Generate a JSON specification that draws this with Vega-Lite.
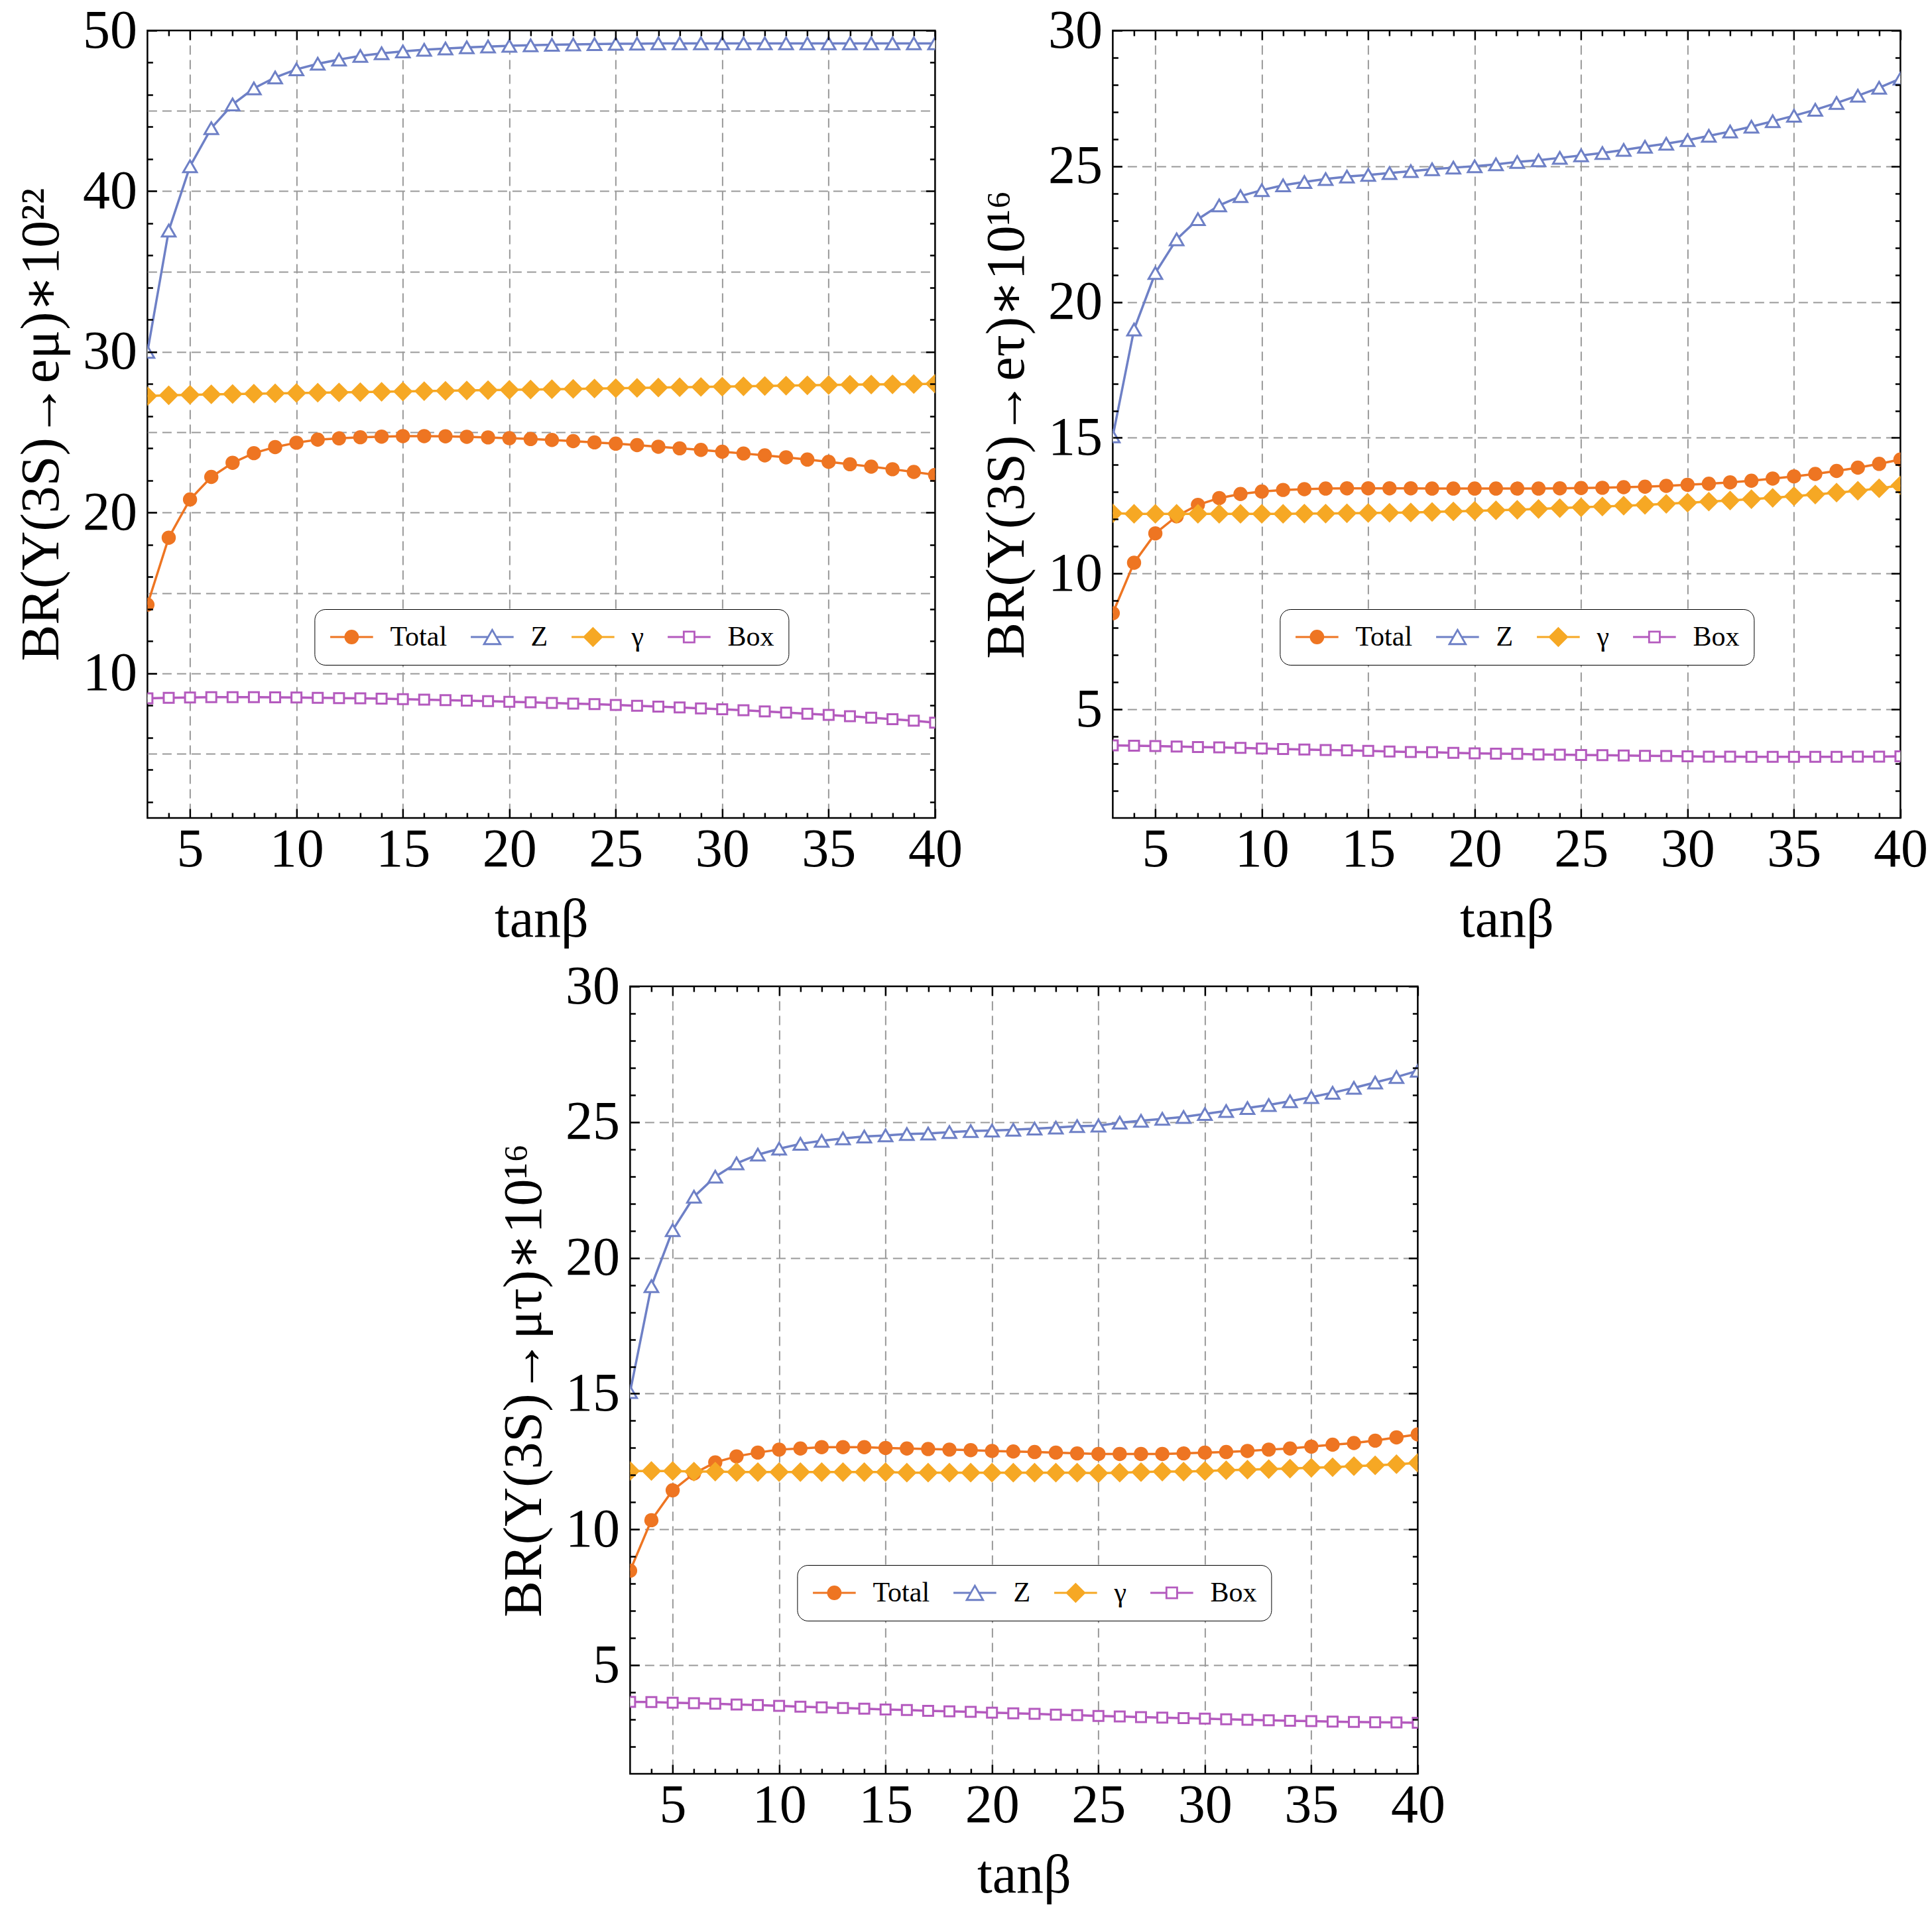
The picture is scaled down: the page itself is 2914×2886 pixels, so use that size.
{
"$schema":"https://vega.github.io/schema/vega-lite/v6.json",
"background":"white",
"padding":{"left":20,"top":3,"right":2,"bottom":2},
"datasets":{
"p1":[
{"t":3,"s":"Total","v":14.27},{"t":4,"s":"Total","v":18.44},{"t":5,"s":"Total","v":20.82},{"t":6,"s":"Total","v":22.22},{"t":7,"s":"Total","v":23.1},{"t":8,"s":"Total","v":23.7},{"t":9,"s":"Total","v":24.08},{"t":10,"s":"Total","v":24.35},{"t":11,"s":"Total","v":24.54},{"t":12,"s":"Total","v":24.62},{"t":13,"s":"Total","v":24.69},{"t":14,"s":"Total","v":24.73},{"t":15,"s":"Total","v":24.76},{"t":16,"s":"Total","v":24.76},{"t":17,"s":"Total","v":24.75},{"t":18,"s":"Total","v":24.72},{"t":19,"s":"Total","v":24.68},{"t":20,"s":"Total","v":24.63},{"t":21,"s":"Total","v":24.58},{"t":22,"s":"Total","v":24.52},{"t":23,"s":"Total","v":24.45},{"t":24,"s":"Total","v":24.37},{"t":25,"s":"Total","v":24.29},{"t":26,"s":"Total","v":24.2},{"t":27,"s":"Total","v":24.1},{"t":28,"s":"Total","v":24.0},{"t":29,"s":"Total","v":23.9},{"t":30,"s":"Total","v":23.79},{"t":31,"s":"Total","v":23.68},{"t":32,"s":"Total","v":23.56},{"t":33,"s":"Total","v":23.44},{"t":34,"s":"Total","v":23.3},{"t":35,"s":"Total","v":23.16},{"t":36,"s":"Total","v":23.01},{"t":37,"s":"Total","v":22.86},{"t":38,"s":"Total","v":22.7},{"t":39,"s":"Total","v":22.53},{"t":40,"s":"Total","v":22.35},
{"t":3,"s":"Z","v":30.0},{"t":4,"s":"Z","v":37.55},{"t":5,"s":"Z","v":41.55},{"t":6,"s":"Z","v":43.92},{"t":7,"s":"Z","v":45.4},{"t":8,"s":"Z","v":46.4},{"t":9,"s":"Z","v":47.08},{"t":10,"s":"Z","v":47.58},{"t":11,"s":"Z","v":47.93},{"t":12,"s":"Z","v":48.19},{"t":13,"s":"Z","v":48.42},{"t":14,"s":"Z","v":48.58},{"t":15,"s":"Z","v":48.7},{"t":16,"s":"Z","v":48.8},{"t":17,"s":"Z","v":48.88},{"t":18,"s":"Z","v":48.95},{"t":19,"s":"Z","v":49.0},{"t":20,"s":"Z","v":49.05},{"t":21,"s":"Z","v":49.08},{"t":22,"s":"Z","v":49.11},{"t":23,"s":"Z","v":49.13},{"t":24,"s":"Z","v":49.15},{"t":25,"s":"Z","v":49.17},{"t":26,"s":"Z","v":49.18},{"t":27,"s":"Z","v":49.2},{"t":28,"s":"Z","v":49.2},{"t":29,"s":"Z","v":49.2},{"t":30,"s":"Z","v":49.2},{"t":31,"s":"Z","v":49.2},{"t":32,"s":"Z","v":49.2},{"t":33,"s":"Z","v":49.2},{"t":34,"s":"Z","v":49.2},{"t":35,"s":"Z","v":49.2},{"t":36,"s":"Z","v":49.2},{"t":37,"s":"Z","v":49.2},{"t":38,"s":"Z","v":49.2},{"t":39,"s":"Z","v":49.2},{"t":40,"s":"Z","v":49.2},
{"t":3,"s":"γ","v":27.25},{"t":4,"s":"γ","v":27.3},{"t":5,"s":"γ","v":27.33},{"t":6,"s":"γ","v":27.36},{"t":7,"s":"γ","v":27.38},{"t":8,"s":"γ","v":27.4},{"t":9,"s":"γ","v":27.42},{"t":10,"s":"γ","v":27.44},{"t":11,"s":"γ","v":27.46},{"t":12,"s":"γ","v":27.48},{"t":13,"s":"γ","v":27.5},{"t":14,"s":"γ","v":27.52},{"t":15,"s":"γ","v":27.54},{"t":16,"s":"γ","v":27.56},{"t":17,"s":"γ","v":27.58},{"t":18,"s":"γ","v":27.6},{"t":19,"s":"γ","v":27.62},{"t":20,"s":"γ","v":27.64},{"t":21,"s":"γ","v":27.66},{"t":22,"s":"γ","v":27.68},{"t":23,"s":"γ","v":27.7},{"t":24,"s":"γ","v":27.72},{"t":25,"s":"γ","v":27.74},{"t":26,"s":"γ","v":27.76},{"t":27,"s":"γ","v":27.78},{"t":28,"s":"γ","v":27.8},{"t":29,"s":"γ","v":27.82},{"t":30,"s":"γ","v":27.84},{"t":31,"s":"γ","v":27.86},{"t":32,"s":"γ","v":27.88},{"t":33,"s":"γ","v":27.9},{"t":34,"s":"γ","v":27.92},{"t":35,"s":"γ","v":27.94},{"t":36,"s":"γ","v":27.96},{"t":37,"s":"γ","v":27.97},{"t":38,"s":"γ","v":27.98},{"t":39,"s":"γ","v":28.0},{"t":40,"s":"γ","v":28.02},
{"t":3,"s":"Box","v":8.45},{"t":4,"s":"Box","v":8.48},{"t":5,"s":"Box","v":8.5},{"t":6,"s":"Box","v":8.52},{"t":7,"s":"Box","v":8.52},{"t":8,"s":"Box","v":8.52},{"t":9,"s":"Box","v":8.51},{"t":10,"s":"Box","v":8.5},{"t":11,"s":"Box","v":8.48},{"t":12,"s":"Box","v":8.46},{"t":13,"s":"Box","v":8.44},{"t":14,"s":"Box","v":8.42},{"t":15,"s":"Box","v":8.39},{"t":16,"s":"Box","v":8.36},{"t":17,"s":"Box","v":8.33},{"t":18,"s":"Box","v":8.3},{"t":19,"s":"Box","v":8.27},{"t":20,"s":"Box","v":8.23},{"t":21,"s":"Box","v":8.2},{"t":22,"s":"Box","v":8.16},{"t":23,"s":"Box","v":8.12},{"t":24,"s":"Box","v":8.08},{"t":25,"s":"Box","v":8.03},{"t":26,"s":"Box","v":7.98},{"t":27,"s":"Box","v":7.93},{"t":28,"s":"Box","v":7.88},{"t":29,"s":"Box","v":7.82},{"t":30,"s":"Box","v":7.76},{"t":31,"s":"Box","v":7.7},{"t":32,"s":"Box","v":7.63},{"t":33,"s":"Box","v":7.56},{"t":34,"s":"Box","v":7.49},{"t":35,"s":"Box","v":7.41},{"t":36,"s":"Box","v":7.33},{"t":37,"s":"Box","v":7.24},{"t":38,"s":"Box","v":7.15},{"t":39,"s":"Box","v":7.05},{"t":40,"s":"Box","v":6.93}
],
"p2":[
{"t":3,"s":"Total","v":8.54},{"t":4,"s":"Total","v":10.4},{"t":5,"s":"Total","v":11.48},{"t":6,"s":"Total","v":12.11},{"t":7,"s":"Total","v":12.53},{"t":8,"s":"Total","v":12.78},{"t":9,"s":"Total","v":12.93},{"t":10,"s":"Total","v":13.02},{"t":11,"s":"Total","v":13.08},{"t":12,"s":"Total","v":13.11},{"t":13,"s":"Total","v":13.13},{"t":14,"s":"Total","v":13.14},{"t":15,"s":"Total","v":13.14},{"t":16,"s":"Total","v":13.14},{"t":17,"s":"Total","v":13.14},{"t":18,"s":"Total","v":13.13},{"t":19,"s":"Total","v":13.13},{"t":20,"s":"Total","v":13.13},{"t":21,"s":"Total","v":13.13},{"t":22,"s":"Total","v":13.13},{"t":23,"s":"Total","v":13.13},{"t":24,"s":"Total","v":13.14},{"t":25,"s":"Total","v":13.15},{"t":26,"s":"Total","v":13.16},{"t":27,"s":"Total","v":13.18},{"t":28,"s":"Total","v":13.2},{"t":29,"s":"Total","v":13.23},{"t":30,"s":"Total","v":13.27},{"t":31,"s":"Total","v":13.31},{"t":32,"s":"Total","v":13.36},{"t":33,"s":"Total","v":13.42},{"t":34,"s":"Total","v":13.5},{"t":35,"s":"Total","v":13.58},{"t":36,"s":"Total","v":13.67},{"t":37,"s":"Total","v":13.78},{"t":38,"s":"Total","v":13.9},{"t":39,"s":"Total","v":14.04},{"t":40,"s":"Total","v":14.2},
{"t":3,"s":"Z","v":15.05},{"t":4,"s":"Z","v":18.99},{"t":5,"s":"Z","v":21.07},{"t":6,"s":"Z","v":22.31},{"t":7,"s":"Z","v":23.05},{"t":8,"s":"Z","v":23.56},{"t":9,"s":"Z","v":23.9},{"t":10,"s":"Z","v":24.12},{"t":11,"s":"Z","v":24.3},{"t":12,"s":"Z","v":24.42},{"t":13,"s":"Z","v":24.53},{"t":14,"s":"Z","v":24.62},{"t":15,"s":"Z","v":24.68},{"t":16,"s":"Z","v":24.75},{"t":17,"s":"Z","v":24.82},{"t":18,"s":"Z","v":24.89},{"t":19,"s":"Z","v":24.95},{"t":20,"s":"Z","v":25.0},{"t":21,"s":"Z","v":25.07},{"t":22,"s":"Z","v":25.16},{"t":23,"s":"Z","v":25.22},{"t":24,"s":"Z","v":25.31},{"t":25,"s":"Z","v":25.4},{"t":26,"s":"Z","v":25.49},{"t":27,"s":"Z","v":25.6},{"t":28,"s":"Z","v":25.72},{"t":29,"s":"Z","v":25.83},{"t":30,"s":"Z","v":25.96},{"t":31,"s":"Z","v":26.12},{"t":32,"s":"Z","v":26.28},{"t":33,"s":"Z","v":26.46},{"t":34,"s":"Z","v":26.66},{"t":35,"s":"Z","v":26.86},{"t":36,"s":"Z","v":27.08},{"t":37,"s":"Z","v":27.33},{"t":38,"s":"Z","v":27.6},{"t":39,"s":"Z","v":27.89},{"t":40,"s":"Z","v":28.23},
{"t":3,"s":"γ","v":12.22},{"t":4,"s":"γ","v":12.2},{"t":5,"s":"γ","v":12.2},{"t":6,"s":"γ","v":12.2},{"t":7,"s":"γ","v":12.2},{"t":8,"s":"γ","v":12.2},{"t":9,"s":"γ","v":12.2},{"t":10,"s":"γ","v":12.2},{"t":11,"s":"γ","v":12.2},{"t":12,"s":"γ","v":12.21},{"t":13,"s":"γ","v":12.21},{"t":14,"s":"γ","v":12.22},{"t":15,"s":"γ","v":12.23},{"t":16,"s":"γ","v":12.24},{"t":17,"s":"γ","v":12.25},{"t":18,"s":"γ","v":12.27},{"t":19,"s":"γ","v":12.29},{"t":20,"s":"γ","v":12.31},{"t":21,"s":"γ","v":12.33},{"t":22,"s":"γ","v":12.35},{"t":23,"s":"γ","v":12.38},{"t":24,"s":"γ","v":12.41},{"t":25,"s":"γ","v":12.44},{"t":26,"s":"γ","v":12.47},{"t":27,"s":"γ","v":12.5},{"t":28,"s":"γ","v":12.53},{"t":29,"s":"γ","v":12.57},{"t":30,"s":"γ","v":12.61},{"t":31,"s":"γ","v":12.65},{"t":32,"s":"γ","v":12.69},{"t":33,"s":"γ","v":12.74},{"t":34,"s":"γ","v":12.79},{"t":35,"s":"γ","v":12.85},{"t":36,"s":"γ","v":12.91},{"t":37,"s":"γ","v":12.98},{"t":38,"s":"γ","v":13.05},{"t":39,"s":"γ","v":13.14},{"t":40,"s":"γ","v":13.25},
{"t":3,"s":"Box","v":3.67},{"t":4,"s":"Box","v":3.66},{"t":5,"s":"Box","v":3.65},{"t":6,"s":"Box","v":3.63},{"t":7,"s":"Box","v":3.61},{"t":8,"s":"Box","v":3.6},{"t":9,"s":"Box","v":3.58},{"t":10,"s":"Box","v":3.56},{"t":11,"s":"Box","v":3.54},{"t":12,"s":"Box","v":3.52},{"t":13,"s":"Box","v":3.5},{"t":14,"s":"Box","v":3.49},{"t":15,"s":"Box","v":3.47},{"t":16,"s":"Box","v":3.45},{"t":17,"s":"Box","v":3.43},{"t":18,"s":"Box","v":3.42},{"t":19,"s":"Box","v":3.4},{"t":20,"s":"Box","v":3.38},{"t":21,"s":"Box","v":3.37},{"t":22,"s":"Box","v":3.36},{"t":23,"s":"Box","v":3.34},{"t":24,"s":"Box","v":3.33},{"t":25,"s":"Box","v":3.32},{"t":26,"s":"Box","v":3.31},{"t":27,"s":"Box","v":3.3},{"t":28,"s":"Box","v":3.29},{"t":29,"s":"Box","v":3.28},{"t":30,"s":"Box","v":3.27},{"t":31,"s":"Box","v":3.26},{"t":32,"s":"Box","v":3.26},{"t":33,"s":"Box","v":3.25},{"t":34,"s":"Box","v":3.25},{"t":35,"s":"Box","v":3.25},{"t":36,"s":"Box","v":3.25},{"t":37,"s":"Box","v":3.25},{"t":38,"s":"Box","v":3.26},{"t":39,"s":"Box","v":3.26},{"t":40,"s":"Box","v":3.27}
],
"p3":[
{"t":3,"s":"Total","v":8.48},{"t":4,"s":"Total","v":10.34},{"t":5,"s":"Total","v":11.44},{"t":6,"s":"Total","v":12.06},{"t":7,"s":"Total","v":12.47},{"t":8,"s":"Total","v":12.69},{"t":9,"s":"Total","v":12.83},{"t":10,"s":"Total","v":12.94},{"t":11,"s":"Total","v":12.98},{"t":12,"s":"Total","v":13.03},{"t":13,"s":"Total","v":13.03},{"t":14,"s":"Total","v":13.03},{"t":15,"s":"Total","v":13.0},{"t":16,"s":"Total","v":12.98},{"t":17,"s":"Total","v":12.96},{"t":18,"s":"Total","v":12.94},{"t":19,"s":"Total","v":12.92},{"t":20,"s":"Total","v":12.89},{"t":21,"s":"Total","v":12.87},{"t":22,"s":"Total","v":12.85},{"t":23,"s":"Total","v":12.83},{"t":24,"s":"Total","v":12.8},{"t":25,"s":"Total","v":12.78},{"t":26,"s":"Total","v":12.78},{"t":27,"s":"Total","v":12.78},{"t":28,"s":"Total","v":12.78},{"t":29,"s":"Total","v":12.8},{"t":30,"s":"Total","v":12.83},{"t":31,"s":"Total","v":12.85},{"t":32,"s":"Total","v":12.89},{"t":33,"s":"Total","v":12.94},{"t":34,"s":"Total","v":12.98},{"t":35,"s":"Total","v":13.05},{"t":36,"s":"Total","v":13.12},{"t":37,"s":"Total","v":13.18},{"t":38,"s":"Total","v":13.27},{"t":39,"s":"Total","v":13.39},{"t":40,"s":"Total","v":13.5},
{"t":3,"s":"Z","v":15.06},{"t":4,"s":"Z","v":18.96},{"t":5,"s":"Z","v":21.02},{"t":6,"s":"Z","v":22.25},{"t":7,"s":"Z","v":22.99},{"t":8,"s":"Z","v":23.48},{"t":9,"s":"Z","v":23.8},{"t":10,"s":"Z","v":24.02},{"t":11,"s":"Z","v":24.2},{"t":12,"s":"Z","v":24.31},{"t":13,"s":"Z","v":24.4},{"t":14,"s":"Z","v":24.47},{"t":15,"s":"Z","v":24.51},{"t":16,"s":"Z","v":24.56},{"t":17,"s":"Z","v":24.58},{"t":18,"s":"Z","v":24.63},{"t":19,"s":"Z","v":24.67},{"t":20,"s":"Z","v":24.69},{"t":21,"s":"Z","v":24.72},{"t":22,"s":"Z","v":24.76},{"t":23,"s":"Z","v":24.8},{"t":24,"s":"Z","v":24.85},{"t":25,"s":"Z","v":24.87},{"t":26,"s":"Z","v":24.98},{"t":27,"s":"Z","v":25.05},{"t":28,"s":"Z","v":25.12},{"t":29,"s":"Z","v":25.19},{"t":30,"s":"Z","v":25.3},{"t":31,"s":"Z","v":25.41},{"t":32,"s":"Z","v":25.52},{"t":33,"s":"Z","v":25.63},{"t":34,"s":"Z","v":25.77},{"t":35,"s":"Z","v":25.92},{"t":36,"s":"Z","v":26.08},{"t":37,"s":"Z","v":26.26},{"t":38,"s":"Z","v":26.46},{"t":39,"s":"Z","v":26.66},{"t":40,"s":"Z","v":26.89},
{"t":3,"s":"γ","v":12.15},{"t":4,"s":"γ","v":12.15},{"t":5,"s":"γ","v":12.15},{"t":6,"s":"γ","v":12.13},{"t":7,"s":"γ","v":12.13},{"t":8,"s":"γ","v":12.11},{"t":9,"s":"γ","v":12.11},{"t":10,"s":"γ","v":12.11},{"t":11,"s":"γ","v":12.11},{"t":12,"s":"γ","v":12.11},{"t":13,"s":"γ","v":12.11},{"t":14,"s":"γ","v":12.11},{"t":15,"s":"γ","v":12.11},{"t":16,"s":"γ","v":12.09},{"t":17,"s":"γ","v":12.09},{"t":18,"s":"γ","v":12.09},{"t":19,"s":"γ","v":12.09},{"t":20,"s":"γ","v":12.09},{"t":21,"s":"γ","v":12.09},{"t":22,"s":"γ","v":12.09},{"t":23,"s":"γ","v":12.09},{"t":24,"s":"γ","v":12.09},{"t":25,"s":"γ","v":12.07},{"t":26,"s":"γ","v":12.09},{"t":27,"s":"γ","v":12.11},{"t":28,"s":"γ","v":12.13},{"t":29,"s":"γ","v":12.13},{"t":30,"s":"γ","v":12.15},{"t":31,"s":"γ","v":12.18},{"t":32,"s":"γ","v":12.2},{"t":33,"s":"γ","v":12.22},{"t":34,"s":"γ","v":12.24},{"t":35,"s":"γ","v":12.27},{"t":36,"s":"γ","v":12.29},{"t":37,"s":"γ","v":12.33},{"t":38,"s":"γ","v":12.36},{"t":39,"s":"γ","v":12.4},{"t":40,"s":"γ","v":12.45},
{"t":3,"s":"Box","v":3.65},{"t":4,"s":"Box","v":3.64},{"t":5,"s":"Box","v":3.62},{"t":6,"s":"Box","v":3.6},{"t":7,"s":"Box","v":3.58},{"t":8,"s":"Box","v":3.55},{"t":9,"s":"Box","v":3.53},{"t":10,"s":"Box","v":3.5},{"t":11,"s":"Box","v":3.47},{"t":12,"s":"Box","v":3.45},{"t":13,"s":"Box","v":3.42},{"t":14,"s":"Box","v":3.4},{"t":15,"s":"Box","v":3.37},{"t":16,"s":"Box","v":3.35},{"t":17,"s":"Box","v":3.32},{"t":18,"s":"Box","v":3.3},{"t":19,"s":"Box","v":3.28},{"t":20,"s":"Box","v":3.25},{"t":21,"s":"Box","v":3.23},{"t":22,"s":"Box","v":3.21},{"t":23,"s":"Box","v":3.18},{"t":24,"s":"Box","v":3.16},{"t":25,"s":"Box","v":3.13},{"t":26,"s":"Box","v":3.11},{"t":27,"s":"Box","v":3.09},{"t":28,"s":"Box","v":3.07},{"t":29,"s":"Box","v":3.05},{"t":30,"s":"Box","v":3.03},{"t":31,"s":"Box","v":3.01},{"t":32,"s":"Box","v":2.99},{"t":33,"s":"Box","v":2.97},{"t":34,"s":"Box","v":2.95},{"t":35,"s":"Box","v":2.94},{"t":36,"s":"Box","v":2.92},{"t":37,"s":"Box","v":2.91},{"t":38,"s":"Box","v":2.9},{"t":39,"s":"Box","v":2.89},{"t":40,"s":"Box","v":2.88}
]
},
"spacing":15,
"center":true,
"resolve":{"scale":{"fill":"independent","stroke":"independent","shape":"independent"},"legend":{"fill":"independent","stroke":"independent","shape":"independent"}},
"vconcat":[
{"hconcat":[
{"width":1188,"height":1188,"data":{"name":"p1"},
"layer":[
{"mark":{"type":"point","opacity":0},"encoding":{
"x":{"field":"t","type":"quantitative","scale":{"domain":[3,40],"nice":false,"zero":false},"axis":{"orient":"bottom","values":[5,10,15,20,25,30,35],"grid":true,"gridDash":[14,8],"gridColor":"#999999","gridWidth":2,"ticks":false,"labels":false,"title":null,"zindex":0}},
"y":{"field":"v","type":"quantitative","scale":{"domain":[1,50],"nice":false,"zero":false},"axis":{"orient":"left","values":[5,10,15,20,25,30,35,40,45],"grid":true,"gridDash":[14,8],"gridColor":"#999999","gridWidth":2,"ticks":false,"labels":false,"title":null,"zindex":0}}}},
{"mark":{"type":"line","strokeWidth":3.5,"clip":true},"encoding":{
"x":{"field":"t","type":"quantitative","scale":{"domain":[3,40],"nice":false,"zero":false},"axis":{"orient":"bottom","values":[5,10,15,20,25,30,35,40],"tickSize":-14,"labelPadding":21,"labelFontSize":82,"title":"tanβ","titleFontSize":82,"titlePadding":25,"zindex":1}},
"y":{"field":"v","type":"quantitative","scale":{"domain":[1,50],"nice":false,"zero":false},"axis":{"orient":"left","values":[10,20,30,40,50],"tickSize":-14,"labelPadding":30,"labelFontSize":82,"title":"BR(Υ(3S)→eμ)∗10²²","titleFontSize":82,"titlePadding":20,"zindex":1}},
"detail":{"field":"s","type":"nominal"},
"stroke":{"condition":[{"test":"datum.s==='Total'","value":"#EE7522"},{"test":"datum.s==='Z'","value":"#6E80C6"},{"test":"datum.s==='γ'","value":"#F6A824"}],"value":"#B45ABE"}}},
{"mark":{"type":"point","strokeWidth":3,"opacity":1,"fillOpacity":1,"clip":true},"encoding":{
"x":{"field":"t","type":"quantitative","scale":{"domain":[3,40],"nice":false,"zero":false},"axis":{"orient":"top","values":[5,10,15,20,25,30,35,40],"tickSize":-14,"labels":false,"title":null,"zindex":1}},
"y":{"field":"v","type":"quantitative","scale":{"domain":[1,50],"nice":false,"zero":false},"axis":{"orient":"right","values":[10,20,30,40,50],"tickSize":-14,"labels":false,"title":null,"zindex":1}},
"shape":{"condition":[{"test":"datum.s==='Total'","value":"circle"},{"test":"datum.s==='Z'","value":"triangle-up"},{"test":"datum.s==='γ'","value":"diamond"}],"value":"square"},
"fill":{"condition":[{"test":"datum.s==='Total'","value":"#EE7522"},{"test":"datum.s==='γ'","value":"#F6A824"}],"value":"#FFFFFF"},
"stroke":{"condition":[{"test":"datum.s==='Total'","value":"#EE7522"},{"test":"datum.s==='Z'","value":"#6E80C6"},{"test":"datum.s==='γ'","value":"#F6A824"}],"value":"#B45ABE"},
"size":{"condition":[{"test":"datum.s==='Total'","value":340},{"test":"datum.s==='Z'","value":420},{"test":"datum.s==='γ'","value":650}],"value":225}}},
{"mark":{"type":"point","opacity":0},"encoding":{
"x":{"field":"t","type":"quantitative","scale":{"domain":[3,40],"nice":false,"zero":false},"axis":{"orient":"bottom","values":[4,6,7,8,9,11,12,13,14,16,17,18,19,21,22,23,24,26,27,28,29,31,32,33,34,36,37,38,39],"tickSize":-8,"labels":false,"title":null,"zindex":1}},
"y":{"field":"v","type":"quantitative","scale":{"domain":[1,50],"nice":false,"zero":false},"axis":{"orient":"left","values":[2,4,6,8,12,14,16,18,22,24,26,28,32,34,36,38,42,44,46,48],"tickSize":-8,"labels":false,"title":null,"zindex":1}}}},
{"mark":{"type":"point","opacity":0},"encoding":{
"x":{"field":"t","type":"quantitative","scale":{"domain":[3,40],"nice":false,"zero":false},"axis":{"orient":"top","values":[4,6,7,8,9,11,12,13,14,16,17,18,19,21,22,23,24,26,27,28,29,31,32,33,34,36,37,38,39],"tickSize":-8,"labels":false,"title":null,"zindex":1}},
"y":{"field":"v","type":"quantitative","scale":{"domain":[1,50],"nice":false,"zero":false},"axis":{"orient":"right","values":[2,4,6,8,12,14,16,18,22,24,26,28,32,34,36,38,42,44,46,48],"tickSize":-8,"labels":false,"title":null,"zindex":1}}}},
{"transform":[{"filter":"false"}],"mark":{"type":"point","opacity":1,"strokeWidth":2.8},"encoding":{
"shape":{"field":"s","type":"nominal","scale":{"domain":["Total","Z","γ","Box"],"range":["M-3.4,0H-1M1,0H3.4M-1,0A1,1,0,1,1,1,0A1,1,0,1,1,-1,0Z","M-3.4,0H-0.65M0.65,0H3.4M0,-1.13L1.3,1.13L-1.3,1.13Z","M-3.4,0H-1.4M1.4,0H3.4M-1.4,0L0,-1.4L1.4,0L0,1.4Z","M-3.4,0H-0.85M0.85,0H3.4M-0.85,-0.85H0.85V0.85H-0.85Z"]},"legend":{"title":null,"orient":"none","legendX":252,"legendY":873,"direction":"horizontal"}},
"fill":{"field":"s","type":"nominal","scale":{"domain":["Total","Z","γ","Box"],"range":["#EE7522","#FFFFFF","#F6A824","#FFFFFF"]},"legend":{"title":null,"orient":"none","legendX":252,"legendY":873,"direction":"horizontal"}},
"stroke":{"field":"s","type":"nominal","scale":{"domain":["Total","Z","γ","Box"],"range":["#EE7522","#6E80C6","#F6A824","#B45ABE"]},"legend":{"title":null,"orient":"none","legendX":252,"legendY":873,"direction":"horizontal"}}}}
],
"resolve":{"axis":{"x":"independent","y":"independent"}}},
{"width":1188,"height":1188,"data":{"name":"p2"},
"layer":[
{"mark":{"type":"point","opacity":0},"encoding":{
"x":{"field":"t","type":"quantitative","scale":{"domain":[3,40],"nice":false,"zero":false},"axis":{"orient":"bottom","values":[5,10,15,20,25,30,35],"grid":true,"gridDash":[14,8],"gridColor":"#999999","gridWidth":2,"ticks":false,"labels":false,"title":null,"zindex":0}},
"y":{"field":"v","type":"quantitative","scale":{"domain":[1,30],"nice":false,"zero":false},"axis":{"orient":"left","values":[5,10,15,20,25],"grid":true,"gridDash":[14,8],"gridColor":"#999999","gridWidth":2,"ticks":false,"labels":false,"title":null,"zindex":0}}}},
{"mark":{"type":"line","strokeWidth":3.5,"clip":true},"encoding":{
"x":{"field":"t","type":"quantitative","scale":{"domain":[3,40],"nice":false,"zero":false},"axis":{"orient":"bottom","values":[5,10,15,20,25,30,35,40],"tickSize":-14,"labelPadding":21,"labelFontSize":82,"title":"tanβ","titleFontSize":82,"titlePadding":25,"zindex":1}},
"y":{"field":"v","type":"quantitative","scale":{"domain":[1,30],"nice":false,"zero":false},"axis":{"orient":"left","values":[5,10,15,20,25,30],"tickSize":-14,"labelPadding":30,"labelFontSize":82,"title":"BR(Υ(3S)→eτ)∗10¹⁶","titleFontSize":82,"titlePadding":20,"zindex":1}},
"detail":{"field":"s","type":"nominal"},
"stroke":{"condition":[{"test":"datum.s==='Total'","value":"#EE7522"},{"test":"datum.s==='Z'","value":"#6E80C6"},{"test":"datum.s==='γ'","value":"#F6A824"}],"value":"#B45ABE"}}},
{"mark":{"type":"point","strokeWidth":3,"opacity":1,"fillOpacity":1,"clip":true},"encoding":{
"x":{"field":"t","type":"quantitative","scale":{"domain":[3,40],"nice":false,"zero":false},"axis":{"orient":"top","values":[5,10,15,20,25,30,35,40],"tickSize":-14,"labels":false,"title":null,"zindex":1}},
"y":{"field":"v","type":"quantitative","scale":{"domain":[1,30],"nice":false,"zero":false},"axis":{"orient":"right","values":[5,10,15,20,25,30],"tickSize":-14,"labels":false,"title":null,"zindex":1}},
"shape":{"condition":[{"test":"datum.s==='Total'","value":"circle"},{"test":"datum.s==='Z'","value":"triangle-up"},{"test":"datum.s==='γ'","value":"diamond"}],"value":"square"},
"fill":{"condition":[{"test":"datum.s==='Total'","value":"#EE7522"},{"test":"datum.s==='γ'","value":"#F6A824"}],"value":"#FFFFFF"},
"stroke":{"condition":[{"test":"datum.s==='Total'","value":"#EE7522"},{"test":"datum.s==='Z'","value":"#6E80C6"},{"test":"datum.s==='γ'","value":"#F6A824"}],"value":"#B45ABE"},
"size":{"condition":[{"test":"datum.s==='Total'","value":340},{"test":"datum.s==='Z'","value":420},{"test":"datum.s==='γ'","value":650}],"value":225}}},
{"mark":{"type":"point","opacity":0},"encoding":{
"x":{"field":"t","type":"quantitative","scale":{"domain":[3,40],"nice":false,"zero":false},"axis":{"orient":"bottom","values":[4,6,7,8,9,11,12,13,14,16,17,18,19,21,22,23,24,26,27,28,29,31,32,33,34,36,37,38,39],"tickSize":-8,"labels":false,"title":null,"zindex":1}},
"y":{"field":"v","type":"quantitative","scale":{"domain":[1,30],"nice":false,"zero":false},"axis":{"orient":"left","values":[2,3,4,6,7,8,9,11,12,13,14,16,17,18,19,21,22,23,24,26,27,28,29],"tickSize":-8,"labels":false,"title":null,"zindex":1}}}},
{"mark":{"type":"point","opacity":0},"encoding":{
"x":{"field":"t","type":"quantitative","scale":{"domain":[3,40],"nice":false,"zero":false},"axis":{"orient":"top","values":[4,6,7,8,9,11,12,13,14,16,17,18,19,21,22,23,24,26,27,28,29,31,32,33,34,36,37,38,39],"tickSize":-8,"labels":false,"title":null,"zindex":1}},
"y":{"field":"v","type":"quantitative","scale":{"domain":[1,30],"nice":false,"zero":false},"axis":{"orient":"right","values":[2,3,4,6,7,8,9,11,12,13,14,16,17,18,19,21,22,23,24,26,27,28,29],"tickSize":-8,"labels":false,"title":null,"zindex":1}}}},
{"transform":[{"filter":"false"}],"mark":{"type":"point","opacity":1,"strokeWidth":2.8},"encoding":{
"shape":{"field":"s","type":"nominal","scale":{"domain":["Total","Z","γ","Box"],"range":["M-3.4,0H-1M1,0H3.4M-1,0A1,1,0,1,1,1,0A1,1,0,1,1,-1,0Z","M-3.4,0H-0.65M0.65,0H3.4M0,-1.13L1.3,1.13L-1.3,1.13Z","M-3.4,0H-1.4M1.4,0H3.4M-1.4,0L0,-1.4L1.4,0L0,1.4Z","M-3.4,0H-0.85M0.85,0H3.4M-0.85,-0.85H0.85V0.85H-0.85Z"]},"legend":{"title":null,"orient":"none","legendX":252,"legendY":873,"direction":"horizontal"}},
"fill":{"field":"s","type":"nominal","scale":{"domain":["Total","Z","γ","Box"],"range":["#EE7522","#FFFFFF","#F6A824","#FFFFFF"]},"legend":{"title":null,"orient":"none","legendX":252,"legendY":873,"direction":"horizontal"}},
"stroke":{"field":"s","type":"nominal","scale":{"domain":["Total","Z","γ","Box"],"range":["#EE7522","#6E80C6","#F6A824","#B45ABE"]},"legend":{"title":null,"orient":"none","legendX":252,"legendY":873,"direction":"horizontal"}}}}
],
"resolve":{"axis":{"x":"independent","y":"independent"}}}
],
"spacing":22,
"resolve":{"scale":{"fill":"independent","stroke":"independent","shape":"independent"},"legend":{"fill":"independent","stroke":"independent","shape":"independent"}}},
{"width":1188,"height":1188,"data":{"name":"p3"},
"layer":[
{"mark":{"type":"point","opacity":0},"encoding":{
"x":{"field":"t","type":"quantitative","scale":{"domain":[3,40],"nice":false,"zero":false},"axis":{"orient":"bottom","values":[5,10,15,20,25,30,35],"grid":true,"gridDash":[14,8],"gridColor":"#999999","gridWidth":2,"ticks":false,"labels":false,"title":null,"zindex":0}},
"y":{"field":"v","type":"quantitative","scale":{"domain":[1,30],"nice":false,"zero":false},"axis":{"orient":"left","values":[5,10,15,20,25],"grid":true,"gridDash":[14,8],"gridColor":"#999999","gridWidth":2,"ticks":false,"labels":false,"title":null,"zindex":0}}}},
{"mark":{"type":"line","strokeWidth":3.5,"clip":true},"encoding":{
"x":{"field":"t","type":"quantitative","scale":{"domain":[3,40],"nice":false,"zero":false},"axis":{"orient":"bottom","values":[5,10,15,20,25,30,35,40],"tickSize":-14,"labelPadding":21,"labelFontSize":82,"title":"tanβ","titleFontSize":82,"titlePadding":25,"zindex":1}},
"y":{"field":"v","type":"quantitative","scale":{"domain":[1,30],"nice":false,"zero":false},"axis":{"orient":"left","values":[5,10,15,20,25,30],"tickSize":-14,"labelPadding":30,"labelFontSize":82,"title":"BR(Υ(3S)→μτ)∗10¹⁶","titleFontSize":82,"titlePadding":20,"zindex":1}},
"detail":{"field":"s","type":"nominal"},
"stroke":{"condition":[{"test":"datum.s==='Total'","value":"#EE7522"},{"test":"datum.s==='Z'","value":"#6E80C6"},{"test":"datum.s==='γ'","value":"#F6A824"}],"value":"#B45ABE"}}},
{"mark":{"type":"point","strokeWidth":3,"opacity":1,"fillOpacity":1,"clip":true},"encoding":{
"x":{"field":"t","type":"quantitative","scale":{"domain":[3,40],"nice":false,"zero":false},"axis":{"orient":"top","values":[5,10,15,20,25,30,35,40],"tickSize":-14,"labels":false,"title":null,"zindex":1}},
"y":{"field":"v","type":"quantitative","scale":{"domain":[1,30],"nice":false,"zero":false},"axis":{"orient":"right","values":[5,10,15,20,25,30],"tickSize":-14,"labels":false,"title":null,"zindex":1}},
"shape":{"condition":[{"test":"datum.s==='Total'","value":"circle"},{"test":"datum.s==='Z'","value":"triangle-up"},{"test":"datum.s==='γ'","value":"diamond"}],"value":"square"},
"fill":{"condition":[{"test":"datum.s==='Total'","value":"#EE7522"},{"test":"datum.s==='γ'","value":"#F6A824"}],"value":"#FFFFFF"},
"stroke":{"condition":[{"test":"datum.s==='Total'","value":"#EE7522"},{"test":"datum.s==='Z'","value":"#6E80C6"},{"test":"datum.s==='γ'","value":"#F6A824"}],"value":"#B45ABE"},
"size":{"condition":[{"test":"datum.s==='Total'","value":340},{"test":"datum.s==='Z'","value":420},{"test":"datum.s==='γ'","value":650}],"value":225}}},
{"mark":{"type":"point","opacity":0},"encoding":{
"x":{"field":"t","type":"quantitative","scale":{"domain":[3,40],"nice":false,"zero":false},"axis":{"orient":"bottom","values":[4,6,7,8,9,11,12,13,14,16,17,18,19,21,22,23,24,26,27,28,29,31,32,33,34,36,37,38,39],"tickSize":-8,"labels":false,"title":null,"zindex":1}},
"y":{"field":"v","type":"quantitative","scale":{"domain":[1,30],"nice":false,"zero":false},"axis":{"orient":"left","values":[2,3,4,6,7,8,9,11,12,13,14,16,17,18,19,21,22,23,24,26,27,28,29],"tickSize":-8,"labels":false,"title":null,"zindex":1}}}},
{"mark":{"type":"point","opacity":0},"encoding":{
"x":{"field":"t","type":"quantitative","scale":{"domain":[3,40],"nice":false,"zero":false},"axis":{"orient":"top","values":[4,6,7,8,9,11,12,13,14,16,17,18,19,21,22,23,24,26,27,28,29,31,32,33,34,36,37,38,39],"tickSize":-8,"labels":false,"title":null,"zindex":1}},
"y":{"field":"v","type":"quantitative","scale":{"domain":[1,30],"nice":false,"zero":false},"axis":{"orient":"right","values":[2,3,4,6,7,8,9,11,12,13,14,16,17,18,19,21,22,23,24,26,27,28,29],"tickSize":-8,"labels":false,"title":null,"zindex":1}}}},
{"transform":[{"filter":"false"}],"mark":{"type":"point","opacity":1,"strokeWidth":2.8},"encoding":{
"shape":{"field":"s","type":"nominal","scale":{"domain":["Total","Z","γ","Box"],"range":["M-3.4,0H-1M1,0H3.4M-1,0A1,1,0,1,1,1,0A1,1,0,1,1,-1,0Z","M-3.4,0H-0.65M0.65,0H3.4M0,-1.13L1.3,1.13L-1.3,1.13Z","M-3.4,0H-1.4M1.4,0H3.4M-1.4,0L0,-1.4L1.4,0L0,1.4Z","M-3.4,0H-0.85M0.85,0H3.4M-0.85,-0.85H0.85V0.85H-0.85Z"]},"legend":{"title":null,"orient":"none","legendX":252,"legendY":873,"direction":"horizontal"}},
"fill":{"field":"s","type":"nominal","scale":{"domain":["Total","Z","γ","Box"],"range":["#EE7522","#FFFFFF","#F6A824","#FFFFFF"]},"legend":{"title":null,"orient":"none","legendX":252,"legendY":873,"direction":"horizontal"}},
"stroke":{"field":"s","type":"nominal","scale":{"domain":["Total","Z","γ","Box"],"range":["#EE7522","#6E80C6","#F6A824","#B45ABE"]},"legend":{"title":null,"orient":"none","legendX":252,"legendY":873,"direction":"horizontal"}}}}
],
"resolve":{"axis":{"x":"independent","y":"independent"}}}
],
"config":{
"view":{"stroke":"black","strokeWidth":2.5},
"axis":{"domain":false,"grid":false,"tickColor":"black","tickWidth":2.5,"labelFont":"Liberation Serif","labelColor":"black","titleFont":"Liberation Serif, DejaVu Serif","titleColor":"black","titleFontWeight":"normal","labelFlush":false,"labelOverlap":false},
"legend":{"padding":21,"strokeColor":"black","fillColor":"white","cornerRadius":16,"labelFont":"Liberation Serif","labelFontSize":42,"labelColor":"black","labelOffset":37,"symbolOffset":14,"columnPadding":30,"symbolSize":361,"symbolStrokeWidth":2.8}
}
}
